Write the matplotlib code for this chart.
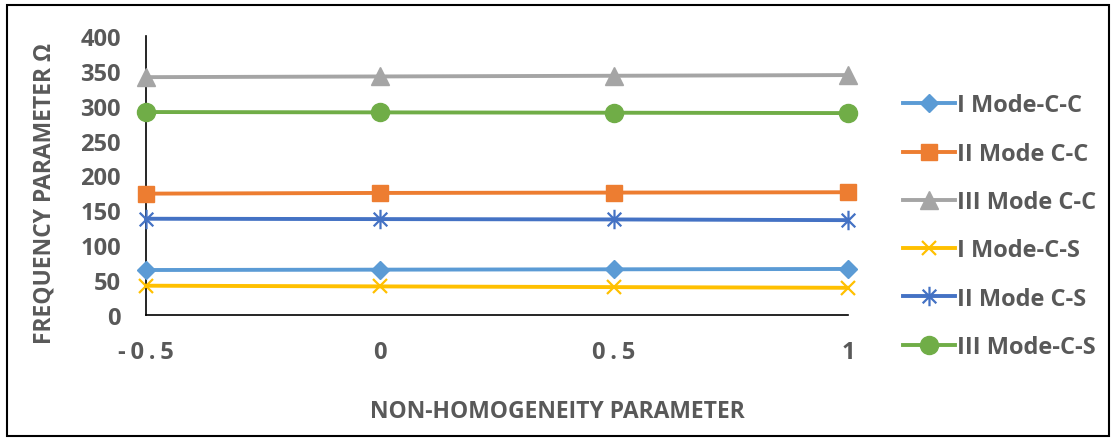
import matplotlib
matplotlib.use("Agg")
import matplotlib.pyplot as plt
from matplotlib.path import Path
from matplotlib.patches import Rectangle

# data
categories = ["-0.5", "0", "0.5", "1"]
mode1_cc = [64.5, 65, 65.5, 66]
mode2_cc = [174, 175, 175.5, 176]
mode3_cc = [341, 342, 343, 344]
mode1_cs = [42, 41, 40, 39]
mode2_cs = [138, 137.5, 137, 136]
mode3_cs = [291, 290.5, 290, 289.5]

labels = ["I Mode-C-C", "II Mode C-C", "III Mode C-C",
          "I Mode-C-S", "II Mode C-S", "III Mode-C-S"]

plt.rcParams['font.family'] = ['Open Sans', 'DejaVu Sans']
text_col = "#595959"

# excel style star: x plus a vertical bar
star = Path([(0, -1), (0, 1), (-0.7, -0.7), (0.7, 0.7), (-0.7, 0.7), (0.7, -0.7)],
            [Path.MOVETO, Path.LINETO, Path.MOVETO, Path.LINETO, Path.MOVETO, Path.LINETO])

styles = [
    dict(color="#5B9BD5", marker="D", ms=9.5),
    dict(color="#ED7D31", marker="s", ms=12),
    dict(color="#A5A5A5", marker="^", ms=13),
    dict(color="#FFC000", marker="x", ms=10, mew=1.6),
    dict(color="#4472C4", marker=star, ms=14, mew=1.6),
    dict(color="#70AD47", marker="o", ms=13),
]
series = [mode1_cc, mode2_cc, mode3_cc, mode1_cs, mode2_cs, mode3_cs]

fig = plt.figure(figsize=(11.12, 4.39), dpi=100)
ax = fig.add_axes([146/1112, 1 - 316/439, (848-146)/1112, (316-37)/439])

x = list(range(len(categories)))
for vals, lab, st in zip(series, labels, styles):
    ax.plot(x, vals, label=lab, lw=2.8, clip_on=False, zorder=3, **st)

ax.set_xlim(0, len(categories) - 1)
ax.set_ylim(0, 400)
ax.set_yticks(range(0, 401, 50))
ax.set_xticks(x)
# spread the characters like the original axis labels
ax.set_xticklabels(["\u2009".join(c) for c in categories])

for s in ["top", "right"]:
    ax.spines[s].set_visible(False)
for s in ["left", "bottom"]:
    ax.spines[s].set_color("black")
    ax.spines[s].set_linewidth(1.2)

ax.tick_params(axis="y", length=0, pad=18, labelsize=17, labelcolor=text_col)
ax.tick_params(axis="x", length=0, pad=18, labelsize=17, labelcolor=text_col)
for t in ax.get_xticklabels() + ax.get_yticklabels():
    t.set_fontweight("bold")

fig.text(557/1112, 1 - 412/439, "NON-HOMOGENEITY PARAMETER", ha="center", va="center",
         fontsize=16.5, fontweight="bold", color=text_col)
fig.text(45/1112, 1 - 194/439, "FREQUENCY PARAMETER Ω", ha="center", va="center",
         rotation=90, fontsize=16.5, fontweight="bold", color=text_col)

leg = fig.legend(loc="upper left", bbox_to_anchor=(894/1112, 1 - 85/439),
                 frameon=False, fontsize=17, handlelength=2.2, handletextpad=0.08,
                 labelspacing=1.03, borderaxespad=0)
for t in leg.get_texts():
    t.set_fontweight("bold")
    t.set_color(text_col)

# outer chart border
fig.patches.append(Rectangle((7/1112, 1 - 437/439), 1102/1112, 431/439,
                             transform=fig.transFigure, fill=False,
                             edgecolor="black", lw=1.5))

fig.savefig("out.png", dpi=100)
